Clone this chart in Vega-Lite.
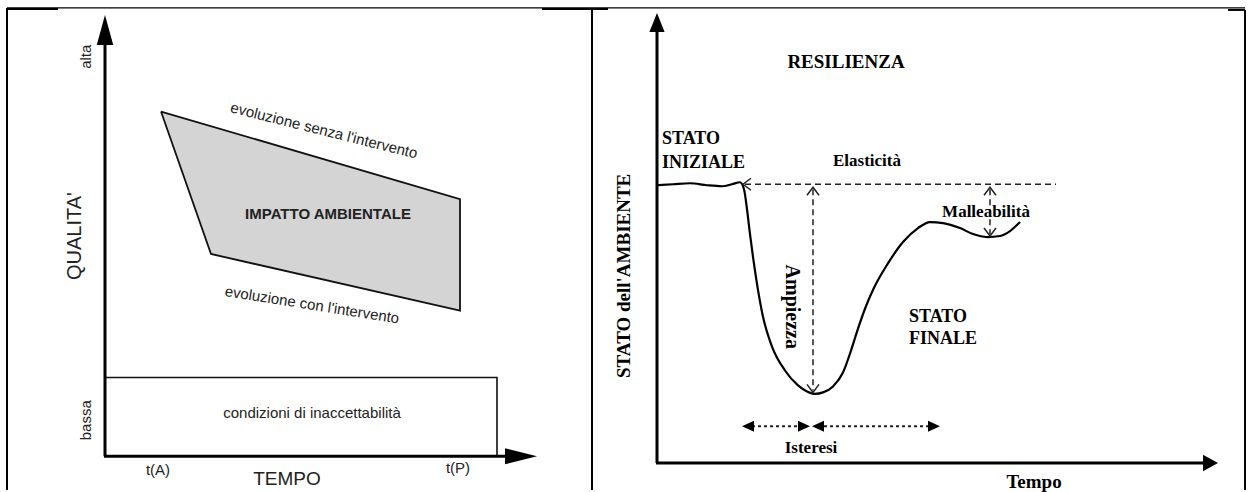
{
  "$schema": "https://vega.github.io/schema/vega-lite/v6.json",
  "width": 1248,
  "height": 492,
  "autosize": {"type": "fit", "contains": "padding"},
  "padding": 0,
  "background": "white",
  "config": {"view": {"stroke": null}},
  "datasets": {
    "thin": [{"x": 7, "y": 8, "x2": 1245, "y2": 8}],
    "thick": [
      {"x": 7, "y": 9, "x2": 58, "y2": 9},
      {"x": 542, "y": 9, "x2": 608, "y2": 9},
      {"x": 1228, "y": 10, "x2": 1245, "y2": 10},
      {"x": 7, "y": 8, "x2": 7, "y2": 492},
      {"x": 592, "y": 9, "x2": 592, "y2": 492},
      {"x": 1245, "y": 10, "x2": 1245, "y2": 492}
    ],
    "axes": [
      {"x": 105, "y": 40, "x2": 105, "y2": 458},
      {"x": 104, "y": 458, "x2": 512, "y2": 458},
      {"x": 657, "y": 28, "x2": 657, "y2": 465},
      {"x": 656, "y": 465, "x2": 1206, "y2": 465}
    ],
    "rect": [{"x": 105, "y": 379, "x2": 497, "y2": 458}],
    "impactArea": [
      {"x": 161, "y": 112, "y2": 112},
      {"x": 211, "y": 126.7, "y2": 255},
      {"x": 460, "y": 200, "y2": 312}
    ],
    "impactEdge": [
      {"i": 0, "x": 161, "y": 112},
      {"i": 1, "x": 460, "y": 200},
      {"i": 2, "x": 460, "y": 312},
      {"i": 3, "x": 211, "y": 255},
      {"i": 4, "x": 161, "y": 112}
    ],
    "curve": [
      {"x": 657, "y": 186}, {"x": 673, "y": 185}, {"x": 690, "y": 184}, {"x": 707, "y": 186},
      {"x": 722, "y": 187}, {"x": 732, "y": 185}, {"x": 740, "y": 183}, {"x": 744, "y": 190},
      {"x": 747, "y": 210}, {"x": 750, "y": 235}, {"x": 753, "y": 258}, {"x": 757, "y": 285},
      {"x": 763, "y": 318}, {"x": 772, "y": 348}, {"x": 785, "y": 372}, {"x": 798, "y": 387},
      {"x": 807, "y": 393}, {"x": 815, "y": 395.5}, {"x": 823, "y": 394}, {"x": 833, "y": 388},
      {"x": 843, "y": 374},
      {"x": 851, "y": 352}, {"x": 858, "y": 330}, {"x": 865, "y": 310}, {"x": 874, "y": 289},
      {"x": 887, "y": 266}, {"x": 903, "y": 243}, {"x": 918, "y": 229}, {"x": 930, "y": 223},
      {"x": 943, "y": 224}, {"x": 960, "y": 229}, {"x": 973, "y": 235}, {"x": 987, "y": 238},
      {"x": 1000, "y": 237}, {"x": 1010, "y": 232}, {"x": 1020, "y": 223}
    ],
    "dashed": [
      {"x": 745, "y": 185, "x2": 1056, "y2": 185},
      {"x": 813, "y": 190, "x2": 813, "y2": 392},
      {"x": 990, "y": 190, "x2": 990, "y2": 235}
    ],
    "dotted": [
      {"x": 752, "y": 428, "x2": 798, "y2": 428},
      {"x": 824, "y": 428, "x2": 928, "y2": 428}
    ],
    "chevUp": [{"x": 813, "y": 188}, {"x": 990, "y": 188}],
    "chevDown": [{"x": 813, "y": 394}, {"x": 990, "y": 237}],
    "chevLeft": [{"x": 743, "y": 185}],
    "lArrowUp": [{"x": 105, "y": 15}],
    "lArrowRight": [{"x": 537, "y": 458}],
    "rArrowUp": [{"x": 657, "y": 13}],
    "rArrowRight": [{"x": 1218, "y": 465}],
    "istLeft": [{"x": 742, "y": 428}, {"x": 812, "y": 428}],
    "istRight": [{"x": 810, "y": 428}, {"x": 940, "y": 428}],
    "lTextVert": [{"x": 86, "y": 57, "t": "alta"}, {"x": 86, "y": 422, "t": "bassa"}],
    "lTitleY": [{"x": 75, "y": 237, "t": "QUALITA'"}],
    "lEvoTop": [{"x": 324, "y": 131, "t": "evoluzione senza l'intervento"}],
    "lEvoBot": [{"x": 312, "y": 306, "t": "evoluzione con l'intervento"}],
    "lImpact": [{"x": 328, "y": 215, "t": "IMPATTO AMBIENTALE"}],
    "lText": [
      {"x": 312, "y": 415, "t": "condizioni di inaccettabilità"},
      {"x": 158, "y": 472, "t": "t(A)"},
      {"x": 458, "y": 470, "t": "t(P)"}
    ],
    "lTempo": [{"x": 287, "y": 481, "t": "TEMPO"}],
    "rTitle": [{"x": 846, "y": 62, "t": "RESILIENZA"}],
    "rLeftText": [
      {"x": 662, "y": 140, "t": "STATO"},
      {"x": 662, "y": 164, "t": "INIZIALE"},
      {"x": 909, "y": 318, "t": "STATO"},
      {"x": 909, "y": 340, "t": "FINALE"}
    ],
    "rCenterText": [
      {"x": 867, "y": 162, "t": "Elasticità"},
      {"x": 986, "y": 213, "t": "Malleabilità"},
      {"x": 811, "y": 450, "t": "Isteresi"}
    ],
    "rTempo": [{"x": 1034, "y": 484, "t": "Tempo"}],
    "rAmp": [{"x": 792, "y": 308, "t": "Ampiezza"}],
    "rTitleY": [{"x": 624, "y": 277, "t": "STATO dell'AMBIENTE"}]
  },
  "encoding": {
    "x": {"field": "x", "type": "quantitative", "scale": {"domain": [0, 1248], "nice": false, "zero": false}, "axis": null},
    "y": {"field": "y", "type": "quantitative", "scale": {"domain": [0, 492], "nice": false, "zero": false, "reverse": true}, "axis": null}
  },
  "layer": [
    {"data": {"name": "thin"}, "mark": {"type": "rule", "color": "black", "strokeWidth": 1.2},
     "encoding": {"x2": {"field": "x2"}, "y2": {"field": "y2"}}},
    {"data": {"name": "thick"}, "mark": {"type": "rule", "color": "black", "strokeWidth": 2},
     "encoding": {"x2": {"field": "x2"}, "y2": {"field": "y2"}}},
    {"data": {"name": "impactArea"}, "mark": {"type": "area", "color": "#d4d4d4", "opacity": 1},
     "encoding": {"y2": {"field": "y2"}}},
    {"data": {"name": "impactEdge"}, "mark": {"type": "line", "color": "#111", "strokeWidth": 1.8},
     "encoding": {"order": {"field": "i", "type": "quantitative"}}},
    {"data": {"name": "rect"}, "mark": {"type": "rect", "fill": null, "fillOpacity": 0, "stroke": "#111", "strokeWidth": 1.6},
     "encoding": {"x2": {"field": "x2"}, "y2": {"field": "y2"}}},
    {"data": {"name": "axes"}, "mark": {"type": "rule", "color": "black", "strokeWidth": 3},
     "encoding": {"x2": {"field": "x2"}, "y2": {"field": "y2"}}},
    {"data": {"name": "lArrowUp"}, "mark": {"type": "point", "shape": "M 0 0 L 0.55 2 L -0.55 2 Z", "size": 900, "filled": true, "color": "black", "opacity": 1, "strokeWidth": 0}},
    {"data": {"name": "lArrowRight"}, "mark": {"type": "point", "shape": "M 0 0 L 0.5 2 L -0.5 2 Z", "size": 1024, "angle": 90, "filled": true, "color": "black", "opacity": 1, "strokeWidth": 0}},
    {"data": {"name": "rArrowUp"}, "mark": {"type": "point", "shape": "M 0 0 L 0.8 2 L -0.8 2 Z", "size": 361, "filled": true, "color": "black", "opacity": 1, "strokeWidth": 0}},
    {"data": {"name": "rArrowRight"}, "mark": {"type": "point", "shape": "M 0 0 L 1.1 2 L -1.1 2 Z", "size": 225, "angle": 90, "filled": true, "color": "black", "opacity": 1, "strokeWidth": 0}},
    {"data": {"name": "curve"}, "mark": {"type": "line", "color": "black", "strokeWidth": 2.2, "interpolate": "monotone"}},
    {"data": {"name": "dashed"}, "mark": {"type": "rule", "color": "#222", "strokeWidth": 1.5, "strokeDash": [6, 4]},
     "encoding": {"x2": {"field": "x2"}, "y2": {"field": "y2"}}},
    {"data": {"name": "dotted"}, "mark": {"type": "rule", "color": "#222", "strokeWidth": 2, "strokeDash": [3, 3]},
     "encoding": {"x2": {"field": "x2"}, "y2": {"field": "y2"}}},
    {"data": {"name": "chevUp"}, "mark": {"type": "point", "shape": "M -0.75 1 L 0 0 L 0.75 1", "size": 256, "filled": false, "color": "#222", "opacity": 1, "strokeWidth": 1.5}},
    {"data": {"name": "chevDown"}, "mark": {"type": "point", "shape": "M -0.75 1 L 0 0 L 0.75 1", "size": 256, "angle": 180, "filled": false, "color": "#222", "opacity": 1, "strokeWidth": 1.5}},
    {"data": {"name": "chevLeft"}, "mark": {"type": "point", "shape": "M -0.75 1 L 0 0 L 0.75 1", "size": 256, "angle": 270, "filled": false, "color": "#222", "opacity": 1, "strokeWidth": 1.5}},
    {"data": {"name": "istLeft"}, "mark": {"type": "point", "shape": "M 0 0 L 0.9 2 L -0.9 2 Z", "size": 144, "angle": 270, "filled": true, "color": "black", "opacity": 1, "strokeWidth": 0}},
    {"data": {"name": "istRight"}, "mark": {"type": "point", "shape": "M 0 0 L 0.9 2 L -0.9 2 Z", "size": 144, "angle": 90, "filled": true, "color": "black", "opacity": 1, "strokeWidth": 0}},
    {"data": {"name": "lTextVert"}, "mark": {"type": "text", "font": "Liberation Sans", "fontSize": 15, "angle": 270, "align": "center", "baseline": "middle", "color": "#222"},
     "encoding": {"text": {"field": "t"}}},
    {"data": {"name": "lTitleY"}, "mark": {"type": "text", "font": "Liberation Sans", "fontSize": 20, "angle": 270, "align": "center", "baseline": "middle", "color": "#222"},
     "encoding": {"text": {"field": "t"}}},
    {"data": {"name": "lEvoTop"}, "mark": {"type": "text", "font": "Liberation Sans", "fontSize": 15, "angle": 14, "align": "center", "baseline": "middle", "color": "#222"},
     "encoding": {"text": {"field": "t"}}},
    {"data": {"name": "lEvoBot"}, "mark": {"type": "text", "font": "Liberation Sans", "fontSize": 15, "angle": 9, "align": "center", "baseline": "middle", "color": "#222"},
     "encoding": {"text": {"field": "t"}}},
    {"data": {"name": "lImpact"}, "mark": {"type": "text", "font": "Liberation Sans", "fontSize": 15, "fontWeight": "bold", "align": "center", "baseline": "middle", "color": "#222"},
     "encoding": {"text": {"field": "t"}}},
    {"data": {"name": "lText"}, "mark": {"type": "text", "font": "Liberation Sans", "fontSize": 15, "align": "center", "baseline": "middle", "color": "#222"},
     "encoding": {"text": {"field": "t"}}},
    {"data": {"name": "lTempo"}, "mark": {"type": "text", "font": "Liberation Sans", "fontSize": 19, "align": "center", "baseline": "middle", "color": "#222"},
     "encoding": {"text": {"field": "t"}}},
    {"data": {"name": "rTitle"}, "mark": {"type": "text", "font": "Liberation Serif", "fontSize": 19, "fontWeight": "bold", "align": "center", "baseline": "middle", "color": "black"},
     "encoding": {"text": {"field": "t"}}},
    {"data": {"name": "rLeftText"}, "mark": {"type": "text", "font": "Liberation Serif", "fontSize": 18, "fontWeight": "bold", "align": "left", "baseline": "middle", "color": "black"},
     "encoding": {"text": {"field": "t"}}},
    {"data": {"name": "rCenterText"}, "mark": {"type": "text", "font": "Liberation Serif", "fontSize": 17, "fontWeight": "bold", "align": "center", "baseline": "middle", "color": "black"},
     "encoding": {"text": {"field": "t"}}},
    {"data": {"name": "rTempo"}, "mark": {"type": "text", "font": "Liberation Serif", "fontSize": 19, "fontWeight": "bold", "align": "center", "baseline": "middle", "color": "black"},
     "encoding": {"text": {"field": "t"}}},
    {"data": {"name": "rAmp"}, "mark": {"type": "text", "font": "Liberation Serif", "fontSize": 20, "fontWeight": "bold", "angle": 90, "align": "center", "baseline": "middle", "color": "black"},
     "encoding": {"text": {"field": "t"}}},
    {"data": {"name": "rTitleY"}, "mark": {"type": "text", "font": "Liberation Serif", "fontSize": 19, "fontWeight": "bold", "angle": 270, "align": "center", "baseline": "middle", "color": "black"},
     "encoding": {"text": {"field": "t"}}}
  ]
}
